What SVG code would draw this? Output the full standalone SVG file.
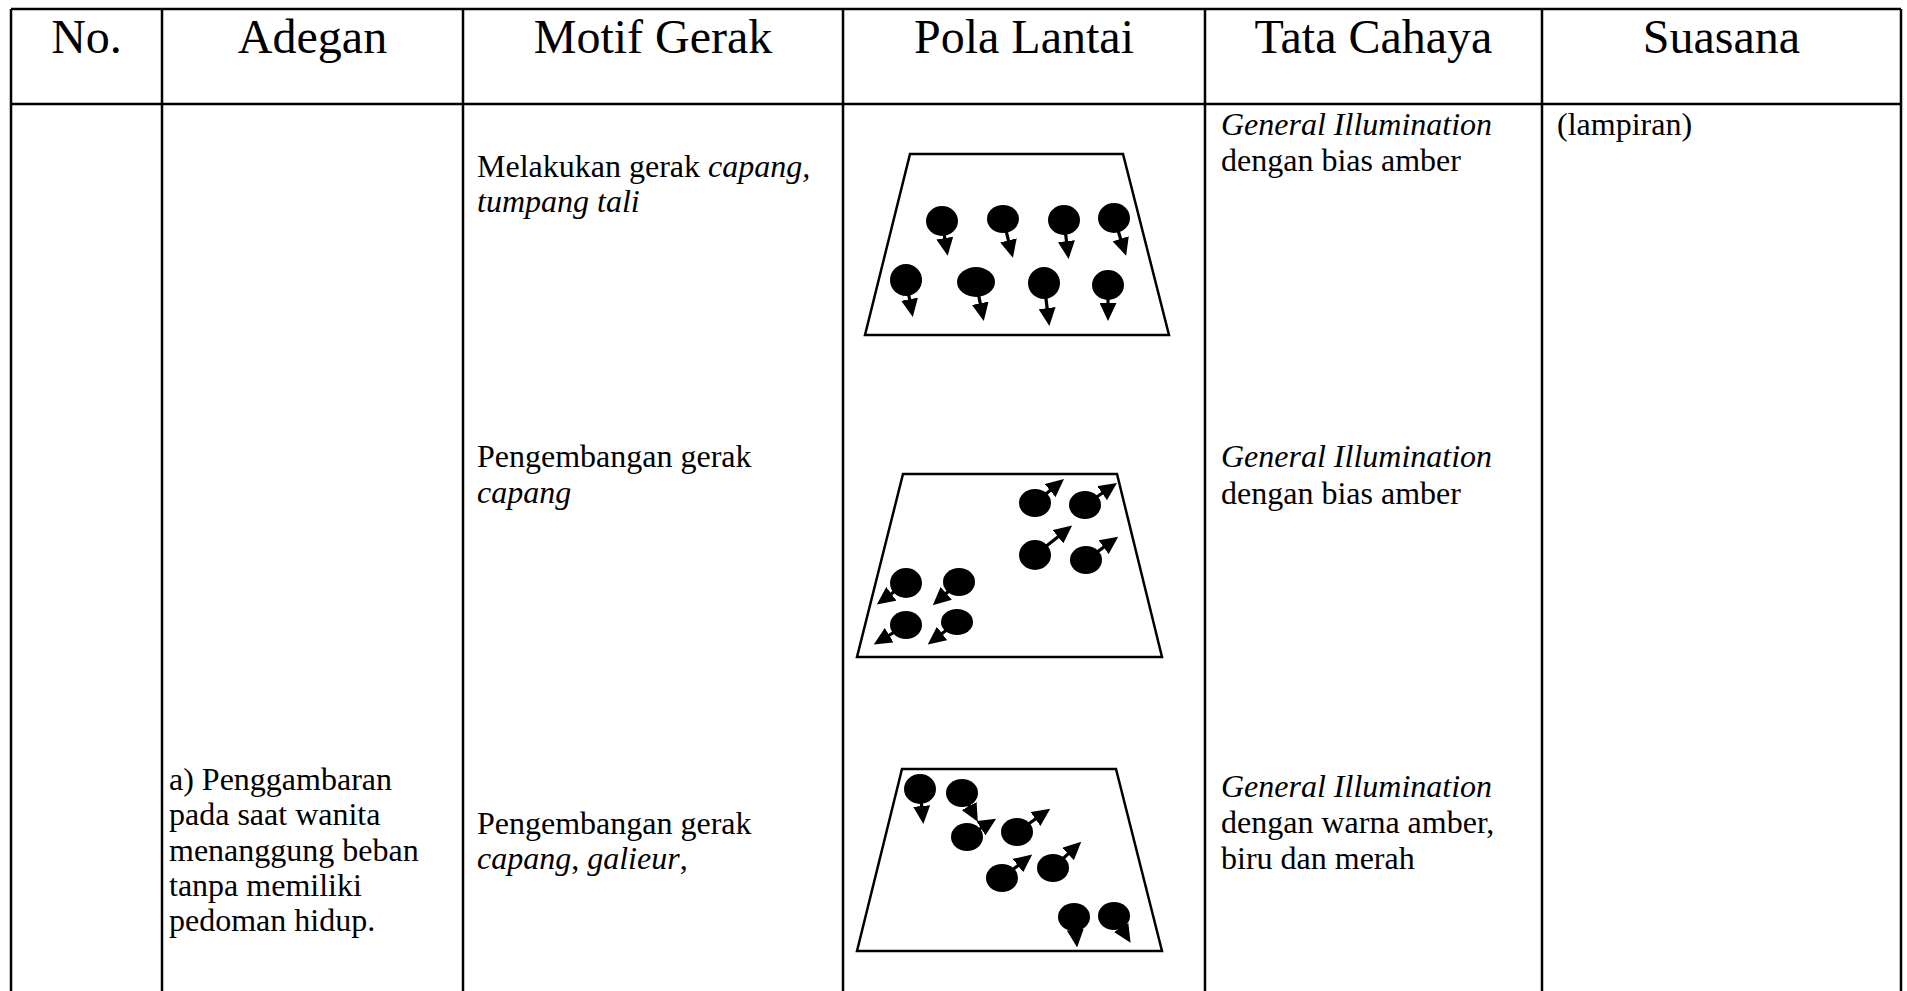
<svg xmlns="http://www.w3.org/2000/svg" width="1907" height="991" viewBox="0 0 1907 991">
  <style>
    .grid { stroke: #000; stroke-width: 2.5; fill: none; }
    .head { font-family: "Liberation Serif", "Times New Roman", serif; font-size: 48px; fill: #000; text-anchor: middle; }
    .body { font-family: "Liberation Serif", "Times New Roman", serif; font-size: 32px; fill: #000; }
    .it { font-style: italic; }
    .stage { fill: none; stroke: #000; stroke-width: 2.5; stroke-linejoin: miter; }
    .dancer { fill: #000; }
    .dir { stroke: #000; stroke-width: 3.2; fill: none; marker-end: url(#head); }
  </style>
  <defs>
    <marker id="head" markerUnits="userSpaceOnUse" markerWidth="18" markerHeight="17" refX="7" refY="8.5" orient="auto">
      <path d="M0,0 L18,8.5 L0,17 Z" fill="#000"/>
    </marker>
  </defs>

  <rect width="1907" height="991" fill="#fff"/>

  <!-- table rules -->
  <g id="table-lines" class="grid">
    <line x1="11" y1="9" x2="1901" y2="9"/>
    <line x1="11" y1="104" x2="1901" y2="104"/>
    <line x1="11" y1="9" x2="11" y2="991"/>
    <line x1="162" y1="9" x2="162" y2="991"/>
    <line x1="463" y1="9" x2="463" y2="991"/>
    <line x1="843" y1="9" x2="843" y2="991"/>
    <line x1="1205" y1="9" x2="1205" y2="991"/>
    <line x1="1542" y1="9" x2="1542" y2="991"/>
    <line x1="1901" y1="9" x2="1901" y2="991"/>
  </g>

  <!-- header row -->
  <g id="header">
    <text class="head" x="86.5" y="53">No.</text>
    <text class="head" x="312.5" y="53">Adegan</text>
    <text class="head" x="653" y="53">Motif Gerak</text>
    <text class="head" x="1024" y="53">Pola Lantai</text>
    <text class="head" x="1373.5" y="53">Tata Cahaya</text>
    <text class="head" x="1721.5" y="53">Suasana</text>
  </g>

  <!-- scene description -->
  <g id="adegan">
    <text class="body" x="169" y="790">a) Penggambaran</text>
    <text class="body" x="169" y="825">pada saat wanita</text>
    <text class="body" x="169" y="861">menanggung beban</text>
    <text class="body" x="169" y="896">tanpa memiliki</text>
    <text class="body" x="169" y="931">pedoman hidup.</text>
  </g>

  <!-- movement motifs -->
  <g id="motif-1">
    <text class="body" x="477" y="177">Melakukan gerak <tspan class="it">capang,</tspan></text>
    <text class="body it" x="477" y="212">tumpang tali</text>
  </g>
  <g id="motif-2">
    <text class="body" x="477" y="467">Pengembangan gerak</text>
    <text class="body it" x="477" y="503">capang</text>
  </g>
  <g id="motif-3">
    <text class="body" x="477" y="834">Pengembangan gerak</text>
    <text class="body" x="477" y="869"><tspan class="it">capang</tspan>, <tspan class="it">galieur</tspan>,</text>
  </g>

  <!-- floor pattern 1: two rows facing front -->
  <g id="pola-1">
    <polygon class="stage" points="910,154 1123,154 1169,335 865,335"/>
    <ellipse class="dancer" cx="942" cy="221" rx="16" ry="15"/>
    <ellipse class="dancer" cx="1003" cy="219" rx="16" ry="14"/>
    <ellipse class="dancer" cx="1064" cy="220" rx="16" ry="15"/>
    <ellipse class="dancer" cx="1114" cy="218" rx="16" ry="15"/>
    <ellipse class="dancer" cx="906" cy="280" rx="16" ry="16"/>
    <ellipse class="dancer" cx="976" cy="282" rx="19" ry="15"/>
    <ellipse class="dancer" cx="1044" cy="283" rx="16" ry="16"/>
    <ellipse class="dancer" cx="1108" cy="285" rx="16" ry="15"/>
    <line class="dir" x1="942" y1="221" x2="945.9" y2="245"/>
    <line class="dir" x1="1003" y1="219" x2="1010.2" y2="247.2"/>
    <line class="dir" x1="1064" y1="220" x2="1067.3" y2="248.1"/>
    <line class="dir" x1="1114" y1="218" x2="1122.8" y2="245.4"/>
    <line class="dir" x1="906" y1="280" x2="910.8" y2="306.1"/>
    <line class="dir" x1="976" y1="282" x2="981.6" y2="310.1"/>
    <line class="dir" x1="1044" y1="283" x2="1048" y2="315.1"/>
    <line class="dir" x1="1108" y1="285" x2="1108" y2="310"/>
  </g>

  <!-- floor pattern 2: two groups moving apart -->
  <g id="pola-2">
    <polygon class="stage" points="903,474 1117,474 1162,657 857,657"/>
    <ellipse class="dancer" cx="1035" cy="503" rx="16" ry="14"/>
    <ellipse class="dancer" cx="1085" cy="505" rx="16" ry="14"/>
    <ellipse class="dancer" cx="1035" cy="555" rx="16" ry="15"/>
    <ellipse class="dancer" cx="1086" cy="560" rx="16" ry="14"/>
    <ellipse class="dancer" cx="906" cy="583" rx="16" ry="15"/>
    <ellipse class="dancer" cx="959" cy="582" rx="16" ry="14"/>
    <ellipse class="dancer" cx="906" cy="625" rx="16" ry="14"/>
    <ellipse class="dancer" cx="957" cy="622" rx="16" ry="13"/>
    <line class="dir" x1="1035" y1="503" x2="1055.5" y2="486.1"/>
    <line class="dir" x1="1085" y1="505" x2="1107.9" y2="489.2"/>
    <line class="dir" x1="1035" y1="555" x2="1063.5" y2="532.4"/>
    <line class="dir" x1="1086" y1="560" x2="1109.3" y2="543.1"/>
    <line class="dir" x1="906" y1="583" x2="885.7" y2="597.9"/>
    <line class="dir" x1="959" y1="582" x2="941" y2="598"/>
    <line class="dir" x1="906" y1="625" x2="883.2" y2="638.8"/>
    <line class="dir" x1="957" y1="622" x2="936.5" y2="637.7"/>
  </g>

  <!-- floor pattern 3: diagonal line -->
  <g id="pola-3">
    <polygon class="stage" points="902,769 1116,769 1162,951 857,951"/>
    <ellipse class="dancer" cx="920" cy="789" rx="16" ry="15"/>
    <ellipse class="dancer" cx="962" cy="793" rx="16" ry="14"/>
    <ellipse class="dancer" cx="967" cy="837" rx="16" ry="14"/>
    <ellipse class="dancer" cx="1017" cy="832" rx="16" ry="14"/>
    <ellipse class="dancer" cx="1002" cy="878" rx="16" ry="14"/>
    <ellipse class="dancer" cx="1053" cy="868" rx="16" ry="14"/>
    <ellipse class="dancer" cx="1074" cy="917" rx="16" ry="14"/>
    <ellipse class="dancer" cx="1114" cy="916" rx="16" ry="14"/>
    <line class="dir" x1="920" y1="789" x2="922.3" y2="813"/>
    <line class="dir" x1="962" y1="793" x2="972.5" y2="812.2"/>
    <line class="dir" x1="967" y1="837" x2="986.8" y2="824.5"/>
    <line class="dir" x1="1017" y1="832" x2="1041.2" y2="815"/>
    <line class="dir" x1="1002" y1="878" x2="1023.5" y2="861.3"/>
    <line class="dir" x1="1053" y1="868" x2="1073.2" y2="849.2"/>
    <line class="dir" x1="1074" y1="917" x2="1076" y2="936.5"/>
    <line class="dir" x1="1114" y1="916" x2="1124.8" y2="933.5"/>
  </g>

  <!-- lighting -->
  <g id="cahaya-1">
    <text class="body it" x="1221" y="135">General Illumination</text>
    <text class="body" x="1221" y="171">dengan bias amber</text>
  </g>
  <g id="cahaya-2">
    <text class="body it" x="1221" y="467">General Illumination</text>
    <text class="body" x="1221" y="504">dengan bias amber</text>
  </g>
  <g id="cahaya-3">
    <text class="body it" x="1221" y="797">General Illumination</text>
    <text class="body" x="1221" y="833">dengan warna amber,</text>
    <text class="body" x="1221" y="869">biru dan merah</text>
  </g>

  <!-- atmosphere -->
  <g id="suasana">
    <text class="body" x="1557" y="135">(lampiran)</text>
  </g>
</svg>
